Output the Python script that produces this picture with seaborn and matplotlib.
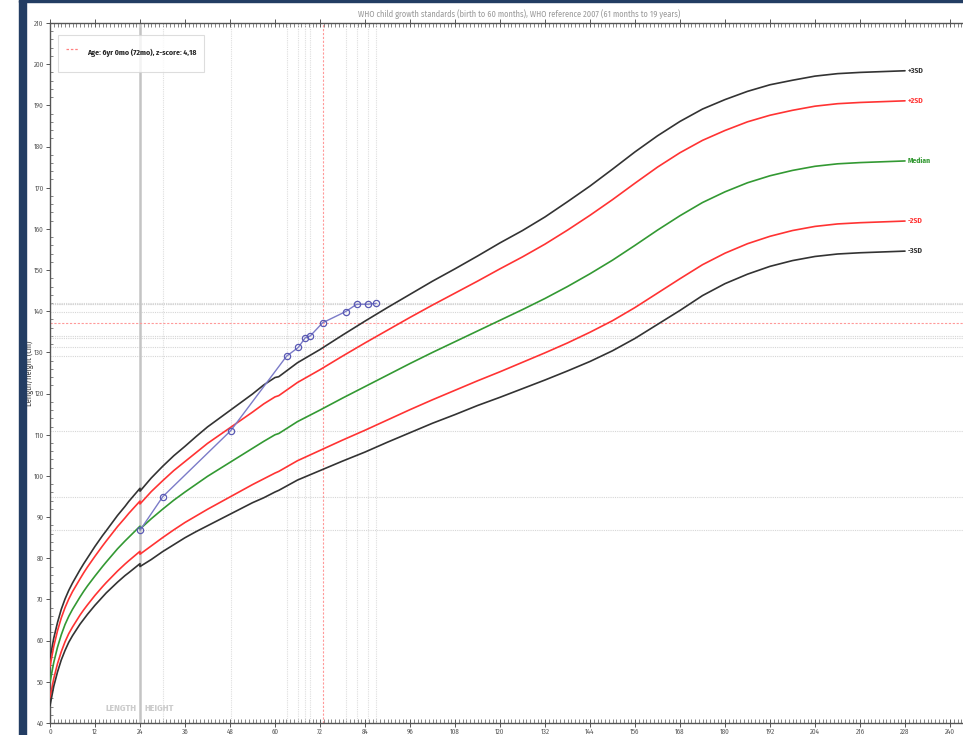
import numpy as np
import pandas as pd
import seaborn as sns
import matplotlib.pyplot as plt
from matplotlib.lines import Line2D
from matplotlib.patches import Rectangle
from matplotlib.ticker import MultipleLocator

# WHO boys length/height-for-age (cm)
# 0-24 mo: length, 24-60 mo: height (WHO standards), 61-228 mo: WHO reference 2007
months = [0, 1, 2, 3, 4, 5, 6, 8, 9, 10, 12, 14, 15, 18, 20, 21, 24, 24,
          27, 30, 33, 36, 39, 42, 45, 48, 51, 54, 57, 60,
          61, 66, 72, 78, 84, 90, 96, 102, 108, 114, 120, 126, 132, 138, 144, 150, 156,
          162, 168, 174, 180, 186, 192, 198, 204, 210, 216, 222, 228]
sd_minus3 = [44.2, 48.9, 52.4, 55.3, 57.6, 59.6, 61.2, 64.0, 65.2, 66.4, 68.6, 70.6, 71.6, 74.2,
             75.8, 76.5, 78.7, 78.0,
             79.7, 81.6, 83.3, 85.0, 86.5, 87.9, 89.3, 90.7, 92.1, 93.5, 94.7, 96.1,
             96.5, 99.0, 101.3, 103.6, 105.8, 108.2, 110.5, 112.8, 114.9, 117.1, 119.1, 121.2,
             123.3, 125.5, 127.8, 130.4, 133.4, 136.8, 140.2, 143.8, 146.7, 149.0, 150.9,
             152.3, 153.3, 153.9, 154.2, 154.4, 154.6]
sd_minus2 = [46.1, 50.8, 54.4, 57.3, 59.7, 61.7, 63.3, 66.2, 67.5, 68.7, 71.0, 73.1, 74.1, 76.9,
             78.6, 79.4, 81.7, 81.0,
             83.0, 85.0, 86.9, 88.7, 90.3, 91.9, 93.4, 94.9, 96.4, 97.9, 99.3, 100.7,
             101.1, 103.7, 106.2, 108.7, 111.1, 113.6, 116.1, 118.5, 120.8, 123.1, 125.3, 127.6,
             129.9, 132.3, 134.9, 137.7, 140.9, 144.4, 147.9, 151.3, 154.1, 156.4, 158.2,
             159.6, 160.6, 161.2, 161.5, 161.7, 161.9]
median = [49.9, 54.7, 58.4, 61.4, 63.9, 65.9, 67.6, 70.6, 72.0, 73.3, 75.7, 78.0, 79.1, 82.3,
          84.2, 85.1, 87.8, 87.1,
          89.6, 91.9, 94.1, 96.1, 98.0, 99.9, 101.6, 103.3, 105.0, 106.7, 108.4, 110.0,
          110.3, 113.2, 116.0, 118.9, 121.7, 124.5, 127.3, 130.0, 132.6, 135.2, 137.8, 140.4,
          143.1, 146.0, 149.1, 152.4, 156.0, 159.7, 163.2, 166.4, 169.0, 171.2, 172.9,
          174.2, 175.2, 175.8, 176.1, 176.3, 176.5]
sd_plus2 = [53.7, 58.6, 62.4, 65.5, 68.0, 70.1, 71.9, 75.0, 76.5, 77.9, 80.5, 83.0, 84.2, 87.7,
            89.8, 90.9, 93.9, 93.2,
            96.2, 98.8, 101.3, 103.5, 105.7, 107.9, 109.8, 111.7, 113.6, 115.5, 117.5, 119.2,
            119.5, 122.7, 125.8, 129.1, 132.3, 135.4, 138.5, 141.5, 144.4, 147.3, 150.3, 153.2,
            156.3, 159.7, 163.3, 167.1, 171.1, 175.0, 178.5, 181.5, 183.9, 186.0, 187.6,
            188.8, 189.8, 190.4, 190.7, 190.9, 191.1]
sd_plus3 = [55.6, 60.6, 64.4, 67.6, 70.1, 72.2, 74.0, 77.2, 78.7, 80.1, 82.9, 85.5, 86.7, 90.4,
            92.6, 93.8, 97.0, 96.3,
            99.5, 102.3, 104.9, 107.2, 109.6, 111.9, 113.9, 115.9, 117.9, 119.9, 122.1, 123.9,
            124.1, 127.5, 130.7, 134.2, 137.6, 140.9, 144.1, 147.3, 150.3, 153.4, 156.6, 159.6,
            162.9, 166.6, 170.4, 174.5, 178.7, 182.6, 186.1, 189.1, 191.4, 193.4, 195.0,
            196.1, 197.1, 197.7, 198.0, 198.2, 198.4]

curve_names = ['+3SD', '+2SD', 'Median', '-2SD', '-3SD']
curve_colors = {'+3SD': '#333333', '+2SD': '#ff3333', 'Median': '#339933',
                '-2SD': '#ff3333', '-3SD': '#333333'}

# patient measurements
pt_age = [24.0, 30.1, 48.2, 63.1, 66.2, 68.1, 69.4, 72.7, 78.8, 81.8, 84.7, 87.0]
pt_height = [86.8, 95.0, 111.0, 129.1, 131.2, 133.6, 134.0, 137.2, 139.9, 141.7, 141.7, 141.9]
sel_age = 72.7
sel_height = 137.2
legend_text = 'Age: 6yr 0mo (72mo), z-score: 4,18'
title = 'WHO child growth standards (birth to 60 months), WHO reference 2007 (61 months to 19 years)'

curves = pd.concat([
    pd.DataFrame({'month': months, 'height': vals, 'curve': name})
    for name, vals in zip(curve_names, [sd_plus3, sd_plus2, median, sd_minus2, sd_minus3])
])
patient = pd.DataFrame({'month': pt_age, 'height': pt_height})

sns.set_theme(style='white')
plt.rcParams['font.family'] = ['Fira Sans Condensed', 'DejaVu Sans']

fig = plt.figure(figsize=(9.63, 7.35), dpi=100)
ax = fig.add_axes([50 / 963, 1 - 723 / 735, 913 / 963, 700 / 735])

# reference lines for each measurement
for a, h in zip(pt_age, pt_height):
    if a != sel_age and a != 24.0:
        ax.axvline(a, color='#dedede', lw=0.8, ls=(0, (1, 1)), zorder=1)
    if h != sel_height:
        ax.axhline(h, color='#d6d6d6', lw=0.8, ls=(0, (1, 1)), zorder=1)
ax.axvline(24, color='#c4c4c4', lw=1.8, zorder=1)
ax.axvline(sel_age, color='#ff9999', lw=0.8, ls=(0, (2, 1.5)), zorder=1)
ax.axhline(sel_height, color='#ff9999', lw=0.8, ls=(0, (2, 1.5)), zorder=1)

sns.lineplot(data=curves, x='month', y='height', hue='curve', palette=curve_colors,
             estimator=None, sort=False, legend=False, lw=1.2, ax=ax, zorder=3)

sns.lineplot(data=patient, x='month', y='height', estimator=None, sort=False,
             color='#7b7bc8', lw=1.0, marker='o', markersize=4.5, markerfacecolor='none',
             markeredgecolor='#5a5ab4', markeredgewidth=0.9, ax=ax, zorder=4)

# right-hand curve labels
for name, vals in zip(curve_names, [sd_plus3, sd_plus2, median, sd_minus2, sd_minus3]):
    ax.text(months[-1] + 0.6, vals[-1], name, color=curve_colors[name], fontsize=5.5,
            fontweight='bold', va='center', ha='left')

ax.text(23.0, 43.5, 'LENGTH', color='#cccccc', fontsize=7, fontweight='bold', ha='right', va='center')
ax.text(25.2, 43.5, 'HEIGHT', color='#cccccc', fontsize=7, fontweight='bold', ha='left', va='center')

ax.set_xlim(0, 913 / 3.75)
ax.set_ylim(40, 210)
ax.xaxis.set_major_locator(MultipleLocator(12))
ax.xaxis.set_minor_locator(MultipleLocator(1))
ax.yaxis.set_major_locator(MultipleLocator(10))
ax.yaxis.set_minor_locator(MultipleLocator(2))
ax.tick_params(axis='x', which='major', direction='inout', length=6, width=0.7, colors='#555555',
               labelsize=5, top=True, bottom=True, pad=1)
ax.tick_params(axis='x', which='minor', direction='in', length=3, width=0.5, color='#555555',
               top=True, bottom=True)
ax.tick_params(axis='y', which='major', direction='out', length=3, width=0.7, colors='#555555',
               labelsize=5, left=True, pad=1.5)
ax.tick_params(axis='y', which='minor', direction='in', length=2, width=0.5, color='#555555', left=True)
for side in ['left', 'bottom', 'top']:
    ax.spines[side].set_color('#555555')
    ax.spines[side].set_linewidth(1.0)
ax.spines['right'].set_visible(False)
ax.set_xlabel('')
ax.set_ylabel('Length/height (cm)', fontsize=6, color='#444444')
ax.yaxis.set_label_coords(-16 / 913, 0.5)

leg_handle = Line2D([0], [0], color='#ff8080', lw=0.9, ls=(0, (2, 1.5)))
leg = ax.legend([leg_handle], [legend_text], loc='upper left', bbox_to_anchor=(0.009, 0.983),
                frameon=True, fancybox=False, prop={'size': 5.6, 'weight': 'bold'},
                borderpad=1.0, handlelength=1.6, handleheight=3.8, handletextpad=1.1,
                borderaxespad=0)
leg.get_frame().set_edgecolor('#d5d5d5')
leg.get_frame().set_linewidth(0.8)

fig.text(519 / 963, 1 - 14 / 735, title, fontsize=6, color='#999999', ha='center', va='center')

# dark blue page frame
fig.patches.append(Rectangle((19 / 963, 0), 7 / 963, 1, transform=fig.transFigure,
                             color='#233d63', zorder=10))
fig.patches.append(Rectangle((19 / 963, 1 - 2 / 735), 1, 2 / 735, transform=fig.transFigure,
                             color='#233d63', zorder=10))

fig.savefig('out.png', dpi=100)
